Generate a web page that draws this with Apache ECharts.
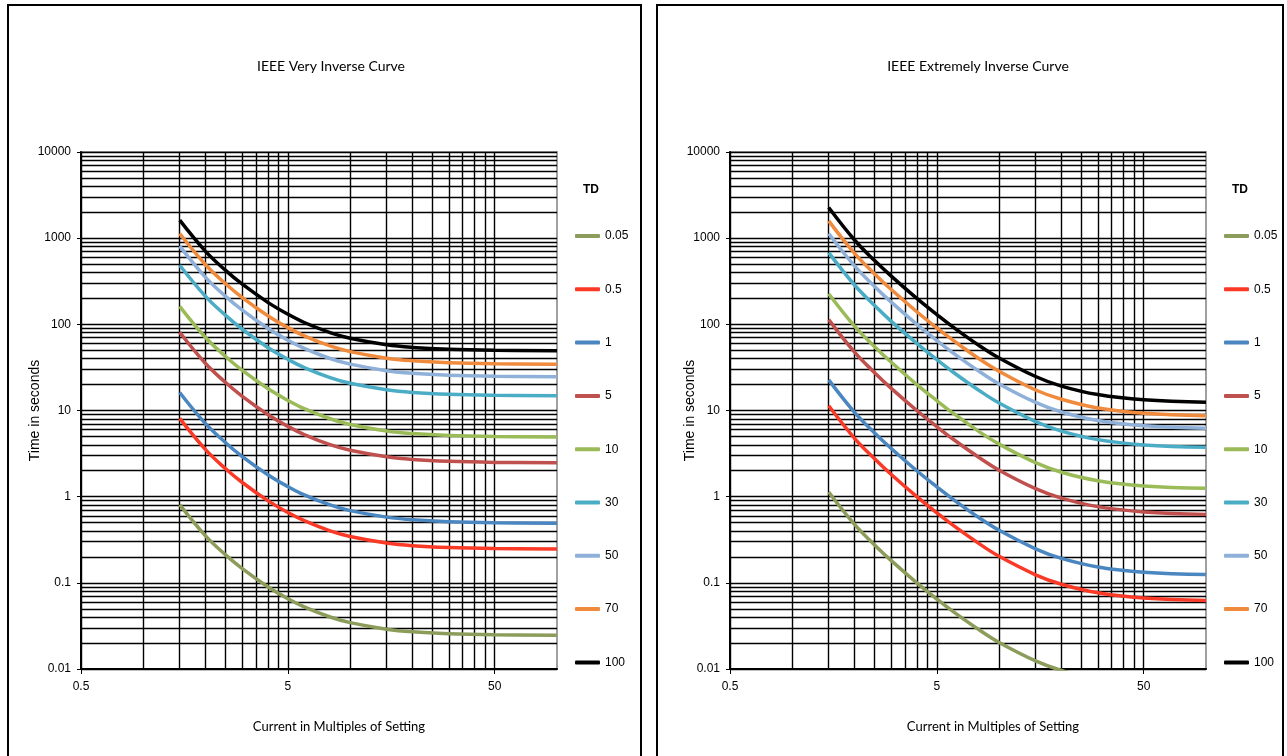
<!DOCTYPE html>
<html>
<head>
<meta charset="utf-8">
<script src="https://cdn.jsdelivr.net/npm/echarts@6/dist/echarts.min.js"></script>
<style>
  html, body { margin: 0; padding: 0; background: #fff; }
  #chart { width: 1287px; height: 756px; }
</style>
</head>
<body>
<div id="chart"></div>
<script>
// current multiples (M) where the curves were read
var multiples = [1.5, 2, 2.5, 3, 4, 5, 6, 8, 10, 15, 20, 30, 50, 100];

var tdLevels = ['0.05', '0.5', '1', '5', '10', '30', '50', '70', '100'];
var tdColors = ['#8c9c5a', '#fa3a26', '#4a86c0', '#c0504d', '#9bbb59', '#4bacc6', '#8fb0d8', '#f08a3c', '#000000'];

// IEEE very inverse, time in seconds
var vi005 = [0.809, 0.351, 0.211, 0.147, 0.0899, 0.0654, 0.0526, 0.0401, 0.0345, 0.0290, 0.0270, 0.0257, 0.0250, 0.0247];
var vi05 = [8.09, 3.51, 2.11, 1.47, 0.899, 0.654, 0.526, 0.401, 0.345, 0.290, 0.270, 0.257, 0.250, 0.247];
var vi1 = [16.18, 7.03, 4.23, 2.94, 1.80, 1.31, 1.05, 0.802, 0.689, 0.579, 0.540, 0.513, 0.499, 0.493];
var vi5 = [80.9, 35.1, 21.1, 14.7, 8.99, 6.54, 5.26, 4.01, 3.45, 2.90, 2.70, 2.57, 2.50, 2.47];
var vi10 = [161.8, 70.3, 42.3, 29.4, 18.0, 13.1, 10.5, 8.02, 6.89, 5.79, 5.40, 5.13, 4.99, 4.93];
var vi30 = [485, 211, 127, 88.3, 53.9, 39.2, 31.5, 24.1, 20.7, 17.4, 16.2, 15.4, 15.0, 14.8];
var vi50 = [809, 351, 211, 147, 89.9, 65.4, 52.6, 40.1, 34.5, 29.0, 27.0, 25.7, 25.0, 24.7];
var vi70 = [1133, 492, 296, 206, 126, 91.6, 73.6, 56.1, 48.2, 40.5, 37.8, 35.9, 34.9, 34.5];
var vi100 = [1618, 703, 423, 294, 180, 131, 105, 80.2, 68.9, 57.9, 54.0, 51.3, 49.9, 49.3];

// IEEE extremely inverse, time in seconds
var ei005 = [1.134, 0.476, 0.275, 0.182, 0.100, 0.0649, 0.0464, 0.0285, 0.0203, 0.0124, 0.00962, 0.00766, 0.00665, 0.00623];
var ei05 = [11.34, 4.76, 2.75, 1.82, 1.00, 0.649, 0.464, 0.285, 0.203, 0.124, 0.0962, 0.0766, 0.0665, 0.0623];
var ei1 = [22.68, 9.52, 5.49, 3.65, 2.00, 1.30, 0.928, 0.569, 0.407, 0.248, 0.192, 0.153, 0.133, 0.125];
var ei5 = [113.4, 47.6, 27.5, 18.2, 10.0, 6.49, 4.64, 2.85, 2.03, 1.24, 0.962, 0.766, 0.665, 0.623];
var ei10 = [226.8, 95.2, 54.9, 36.5, 20.0, 13.0, 9.28, 5.69, 4.07, 2.48, 1.92, 1.53, 1.33, 1.25];
var ei30 = [680, 286, 165, 109, 60.1, 38.9, 27.8, 17.1, 12.2, 7.43, 5.77, 4.59, 3.99, 3.74];
var ei50 = [1134, 476, 275, 182, 100, 64.9, 46.4, 28.5, 20.3, 12.4, 9.62, 7.66, 6.65, 6.23];
var ei70 = [1588, 667, 385, 255, 140, 90.8, 65.0, 39.8, 28.5, 17.3, 13.5, 10.7, 9.31, 8.72];
var ei100 = [2268, 952, 549, 365, 200, 130, 92.8, 56.9, 40.7, 24.8, 19.2, 15.3, 13.3, 12.5];

// axis ticks and gridlines
var xTickLabels = [0.5, 5, 50];
var xMinorGrid = [1, 1.5, 2, 2.5, 3, 3.5, 4, 4.5, 10, 15, 20, 25, 30, 35, 40, 45];
var yMinorGrid = [
    0.02, 0.03, 0.04, 0.05, 0.06, 0.07, 0.08, 0.09,
    0.2, 0.3, 0.4, 0.5, 0.6, 0.7, 0.8, 0.9,
    2, 3, 4, 5, 6, 7, 8, 9,
    20, 30, 40, 50, 60, 70, 80, 90,
    200, 300, 400, 500, 600, 700, 800, 900,
    2000, 3000, 4000, 5000, 6000, 7000, 8000, 9000
];

var veryInverseTimes = [vi005, vi05, vi1, vi5, vi10, vi30, vi50, vi70, vi100];
var extremelyInverseTimes = [ei005, ei05, ei1, ei5, ei10, ei30, ei50, ei70, ei100];

var chartDom = document.getElementById('chart');
var myChart = echarts.init(chartDom);

var numFont = '"Liberation Sans", Arial, sans-serif';
var titleFont = 'Lato, "Open Sans", sans-serif';

var panels = [
    { title: 'IEEE Very Inverse Curve', times: veryInverseTimes, left: 81, titleX: 331, nameX: 339, legendX: 575, tdX: 591, yNameGap: 39 },
    { title: 'IEEE Extremely Inverse Curve', times: extremelyInverseTimes, left: 730, titleX: 978, nameX: 993, legendX: 1224, tdX: 1240, yNameGap: 33 }
];

var grids = [], xAxes = [], yAxes = [], series = [], titles = [], legends = [];
var gridLine = { show: true, lineStyle: { color: '#000', width: 1.4 } };

panels.forEach(function(p, i) {
    grids.push({
        left: p.left, top: 152, width: 476, height: 517,
        show: true, borderColor: '#a0a0a0', borderWidth: 2
    });

    // main axes: labels, ticks, major gridlines
    xAxes.push({
        type: 'log', logBase: 10, gridIndex: i, min: 0.5, max: 100,
        axisLine: { show: true, onZero: false, lineStyle: { color: '#000', width: 2 } },
        axisTick: { show: true, length: 5, customValues: xTickLabels, lineStyle: { color: '#000' } },
        axisLabel: {
            customValues: xTickLabels, margin: 12, color: '#000',
            fontFamily: numFont, fontSize: 12,
            formatter: function(v) { return String(v); }
        },
        splitLine: gridLine
    });
    // minor vertical gridlines
    xAxes.push({
        type: 'log', logBase: 10, gridIndex: i, min: 0.5, max: 100,
        axisLine: { show: false },
        axisTick: { show: false, customValues: xMinorGrid },
        axisLabel: { show: false },
        splitLine: gridLine
    });

    yAxes.push({
        type: 'log', logBase: 10, gridIndex: i, min: 0.01, max: 10000,
        name: 'Time in seconds', nameLocation: 'middle', nameGap: p.yNameGap,
        nameMoveOverlap: false,
        nameTextStyle: { fontFamily: numFont, fontSize: 14, color: '#000' },
        axisLine: { show: true, onZero: false, lineStyle: { color: '#000', width: 2 } },
        axisTick: { show: true, length: 4, lineStyle: { color: '#000' } },
        axisLabel: {
            margin: 10, color: '#000', fontFamily: numFont, fontSize: 12,
            formatter: function(v) { return String(v); }
        },
        splitLine: gridLine
    });
    yAxes.push({
        type: 'log', logBase: 10, gridIndex: i, min: 0.01, max: 10000,
        axisLine: { show: false },
        axisTick: { show: false, customValues: yMinorGrid },
        axisLabel: { show: false },
        splitLine: gridLine
    });

    p.times.forEach(function(times, k) {
        series.push({
            type: 'line',
            name: tdLevels[k],
            xAxisIndex: 2 * i,
            yAxisIndex: 2 * i,
            data: multiples.map(function(m, j) { return [m, times[j]]; }),
            smooth: 0.4,
            showSymbol: false,
            silent: true,
            color: tdColors[k],
            lineStyle: { width: 3.5, color: tdColors[k] },
            z: 5
        });
    });

    titles.push({
        text: p.title, left: p.titleX, top: 59, textAlign: 'center', padding: 0,
        textStyle: { fontFamily: titleFont, fontSize: 14, fontWeight: 'normal', color: '#000' }
    });
    titles.push({
        text: 'Current in Multiples of Setting', left: p.nameX, top: 720, textAlign: 'center', padding: 0,
        textStyle: { fontFamily: titleFont, fontSize: 13, fontWeight: 'normal', color: '#000' }
    });
    titles.push({
        text: 'TD', left: p.tdX, top: 184, textAlign: 'center', padding: 0,
        textStyle: { fontFamily: numFont, fontSize: 12, fontWeight: 'bold', color: '#000' }
    });

    legends.push({
        data: tdLevels,
        orient: 'vertical',
        left: p.legendX, top: 229,
        padding: 0,
        itemWidth: 25, itemHeight: 4, itemGap: 39.3,
        icon: 'roundRect',
        selectedMode: false,
        textStyle: { fontFamily: numFont, fontSize: 12, color: '#000', lineHeight: 14 }
    });
});

var option = {
    backgroundColor: '#fff',
    animation: false,
    title: titles,
    legend: legends,
    grid: grids,
    xAxis: xAxes,
    yAxis: yAxes,
    series: series,
    graphic: [
        { type: 'rect', shape: { x: 8, y: 5, width: 633, height: 770 }, style: { fill: 'none', stroke: '#000', lineWidth: 2 }, silent: true },
        { type: 'rect', shape: { x: 657, y: 5, width: 626, height: 770 }, style: { fill: 'none', stroke: '#000', lineWidth: 2 }, silent: true }
    ]
};

myChart.setOption(option);
</script>
</body>
</html>
